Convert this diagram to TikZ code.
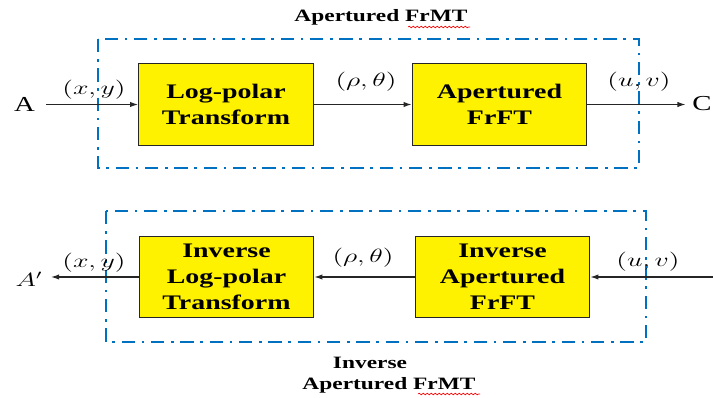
\documentclass[tikz,border=0pt]{standalone}
\usepackage{fontspec}
\usepackage{graphicx}
\usepackage{amsmath}
\usetikzlibrary{arrows.meta,decorations.pathmorphing}
\setmainfont{Liberation Serif}[FakeStretch=1.35]
\definecolor{frmtblue}{HTML}{0070C0}
\newcommand{\lbl}[1]{\scalebox{1.45}[1]{$#1$}}

\begin{document}
\begin{tikzpicture}[x=0.75pt,y=-0.75pt,
  block/.style={draw=black!85, line width=0.9pt, fill=yellow, minimum width=131pt, minimum height=61pt, align=center, font=\fontsize{15.5}{19.5}\selectfont\bfseries},
  frmtbox/.style={draw=frmtblue, line width=1.6pt, dash pattern=on 10pt off 5pt on 2pt off 5pt},
  sig/.style={draw=black!85, line width=0.8pt, -{Latex[length=6pt,width=4pt]}},
  crd/.style={font=\fontsize{14}{16}\selectfont},
  ttl/.style={font=\fontsize{13}{15}\selectfont\bfseries},
  squig/.style={draw=red, line width=0.5pt, decorate, decoration={snake, amplitude=0.6pt, segment length=3pt}}]
 	\useasboundingbox (0,0) rectangle (713,398);
 	% Frames
 	\draw[frmtbox] (98,39) rectangle (639,168);
 	\draw[frmtbox] (106,211) rectangle (646,342);
 	% Titles
 	\node[ttl] (ttop) at (381,17) {Apertured FrMT};
 	\node[ttl] (tbot1) at (370,363) {Inverse};
 	\node[ttl] (tbot2) at (389,385) {Apertured FrMT};
 	\draw[squig] (408,27) -- (470,27);
 	\draw[squig] (418,394) -- (480,394);
 	% Nodes
 	\node[block] (lp) at (226,104.5) {Log-polar\\Transform};
 	\node[block] (afrft) at (499.5,104.5) {Apertured\\FrFT};
 	\node[block] (ilp) at (226.5,277) {Inverse\\Log-polar\\Transform};
 	\node[block] (iafrft) at (502.5,277) {Inverse\\Apertured\\FrFT};
 	\node[font=\fontsize{16}{18}\selectfont] (A) at (24.5,104) {A};
 	\node[font=\fontsize{16}{18}\selectfont, inner sep=1pt] (C) at (702,104) {C};
 	\node[crd] (Ap) at (29,279) {\lbl{A'}};
 	\coordinate (uvin) at (716,277);
 	% Labels
 	\node[crd] (xy1) at (94,90) {\lbl{(x,y)}};
 	\node[crd] (rt1) at (366,82) {\lbl{(\rho,\theta)}};
 	\node[crd] (uv1) at (639,82) {\lbl{(u,v)}};
 	\node[crd] (xy2) at (94,263) {\lbl{(x,y)}};
 	\node[crd] (rt2) at (363,258) {\lbl{(\rho,\theta)}};
 	\node[crd] (uv2) at (648,262) {\lbl{(u,v)}};
 	% Edges
 	\draw[sig, shorten <=5pt] (A.east |- lp.west) -- (lp.west);
 	\draw[sig] (lp.east) -- (afrft.west);
 	\draw[sig, shorten >=4pt] (afrft.east) -- (C.west |- afrft.east);
 	\draw[sig] (uvin) -- (iafrft.east);
 	\draw[sig] (iafrft.west) -- (ilp.west -| iafrft.west) -- (ilp.east);
 	\draw[sig, shorten >=3pt] (ilp.west) -- (Ap.east |- ilp.west);
 \end{tikzpicture}
\end{document}
